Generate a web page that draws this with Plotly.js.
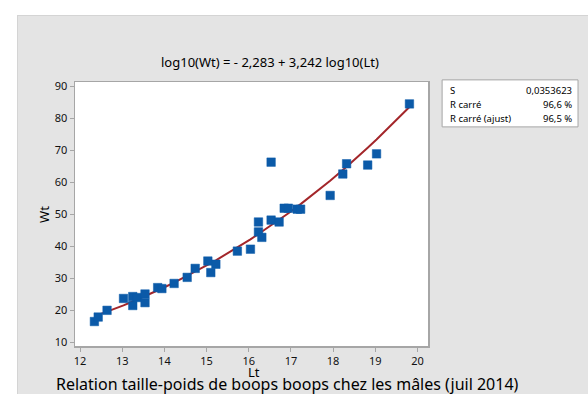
<!DOCTYPE html>
<html><head><meta charset="utf-8">
<script src="https://cdn.plot.ly/plotly-3.0.1.min.js"></script>
<style>
html,body{margin:0;padding:0;background:#fff;width:588px;height:394px;overflow:hidden;}
#chart{position:absolute;left:17px;top:15px;width:571px;height:379px;border-top:1px solid #d4d4d4;border-left:1px solid #d4d4d4;box-sizing:border-box;}
</style></head>
<body><div id="chart"></div>
<script>
// Data
const lt = [12.34,12.43,12.64,13.03,13.25,13.25,13.35,13.54,13.54,13.84,13.94,14.23,14.54,14.73,15.03,15.10,15.22,15.73,16.04,16.23,16.23,16.31,16.53,16.53,16.72,16.84,16.94,17.15,17.23,17.93,18.23,18.32,18.82,19.03,19.81];
const wt = [16.4,17.8,19.9,23.6,24.2,21.4,23.9,25.0,22.3,27.0,26.7,28.3,30.2,33.0,35.3,31.7,34.3,38.4,39.0,47.5,44.4,42.7,66.2,48.1,47.5,51.8,51.8,51.5,51.5,55.8,62.5,65.7,65.3,68.8,84.4];
// Regression coefficients shown in the chart title
const intercept = -2.283;
const slope = 3.242;
const statLabels = ["S", "R carré", "R carré (ajust)"];
const statValues = ["0,0353623", "96,6 %", "96,5 %"];
const xTicks = [12,13,14,15,16,17,18,19,20];
const yTicks = [10,20,30,40,50,60,70,80,90];

const fitX = [...lt].sort((a,b)=>a-b);
const fitY = fitX.map(v => Math.pow(10, intercept + slope*Math.log10(v)));

const font = "'Noto Sans', 'Open Sans', sans-serif";
const traces = [
  {x: fitX, y: fitY, type:'scatter', mode:'lines', line:{color:'#a3262a', width:2}, hoverinfo:'skip'},
  {x: lt, y: wt, type:'scatter', mode:'markers', marker:{symbol:'square', size:8.5, color:'#0b5aa8', line:{width:0.5, color:'#0b5aa8'}}}
];
const ann = [
  {text:'log10(Wt) = - 2,283 + 3,242 log10(Lt)', x:0.551, y:1.076, xref:'paper', yref:'paper', showarrow:false, xanchor:'center', yanchor:'middle', font:{size:13, color:'#000', family:font}},
  {text:'Wt', x:-0.088, y:0.5, xref:'paper', yref:'paper', showarrow:false, textangle:-90, xanchor:'center', yanchor:'middle', font:{size:13, color:'#000', family:font}},
  {text:'Lt', x:0.507, y:-0.1, xref:'paper', yref:'paper', showarrow:false, borderpad:0, xanchor:'center', yanchor:'middle', font:{size:13, color:'#000', family:font}},
  {text:'Relation taille-poids de boops boops chez les mâles (juil 2014)', x:0.603, y:-0.145, xref:'paper', yref:'paper', showarrow:false, borderpad:0, xanchor:'center', yanchor:'middle', font:{size:16, color:'#000', family:font}}
];
const rowY = [0.966, 0.913, 0.862];
statLabels.forEach((s,i)=>{
  ann.push({text:s, x:1.057, y:rowY[i], xref:'paper', yref:'paper', showarrow:false, xanchor:'left', yanchor:'middle', font:{size:9.5, color:'#000', family:font}});
  ann.push({text:statValues[i], x:1.414, y:rowY[i], xref:'paper', yref:'paper', showarrow:false, xanchor:'right', yanchor:'middle', font:{size:9.5, color:'#000', family:font}});
});
const axisCommon = {showgrid:false, zeroline:false, showline:true, linecolor:'#a6a6a6', linewidth:1.5, mirror:true, ticks:'outside', ticklen:4, tickcolor:'#a6a6a6', tickfont:{size:11, color:'#111', family:font}};
const layout = {
  width:571, height:379,
  margin:{l:57, r:161, t:66, b:49},
  paper_bgcolor:'#e4e4e4', plot_bgcolor:'#ffffff',
  showlegend:false,
  xaxis:Object.assign({}, axisCommon, {range:[11.88,20.25], tickvals:xTicks, ticktext:xTicks.map(String)}),
  yaxis:Object.assign({}, axisCommon, {range:[8.75,91.25], tickvals:yTicks, ticktext:yTicks.map(String)}),
  shapes:[{type:'rect', xref:'paper', yref:'paper', x0:1.040, x1:1.425, y0:0.830, y1:1.008, line:{color:'#a6a6a6', width:1}, fillcolor:'#ffffff'}],
  annotations:ann
};
Plotly.newPlot('chart', traces, layout, {displayModeBar:false, staticPlot:true});
</script></body></html>
